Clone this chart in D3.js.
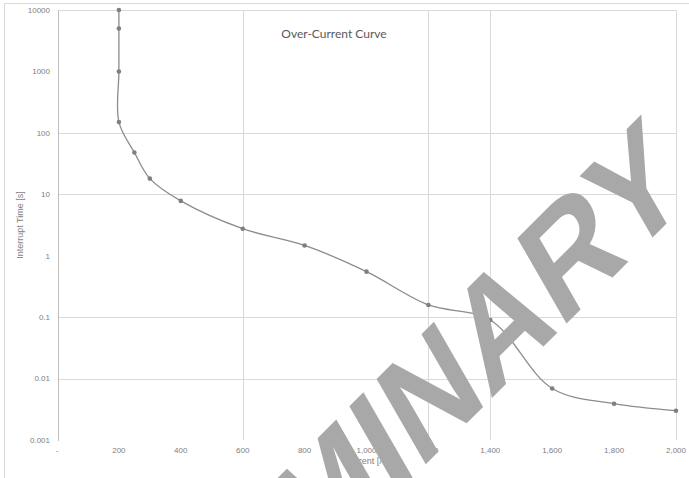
<!DOCTYPE html>
<html>
<head>
<meta charset="utf-8">
<script src="https://cdn.jsdelivr.net/npm/d3@7"></script>
<style>
  body { margin: 0; background: #fff; }
  .tick-label { font-family: "Liberation Sans", Arial, sans-serif; font-size: 8px; fill: #808080; }
</style>
</head>
<body>
<script>
//Data///////////////////////////////////////////////////////////////////////////////////////////

var currents = [200, 200, 200, 200, 250, 300, 400, 600, 800, 1000, 1200, 1400, 1600, 1800, 2000];
var times    = [10000, 5000, 1000, 150, 48, 18, 7.8, 2.75, 1.47, 0.55, 0.158, 0.09, 0.0069, 0.0039, 0.003];

var xTicks = [0, 200, 400, 600, 800, 1000, 1200, 1400, 1600, 1800, 2000];
var yTicks = [10000, 1000, 100, 10, 1, 0.1, 0.01, 0.001];

// gridlines that show in the picture
var xGrid = [600, 1200, 1400, 2000];
var yGrid = [10000, 100, 10, 0.1, 0.01];

var data = currents.map(function(c, i) { return { current: c, time: times[i] }; });

// Set up SVG and scales
var width = 689, height = 478;
var svg = d3.select("body").append("svg")
    .attr("width", width)
    .attr("height", height);

var x = d3.scaleLinear().domain([0, 2000]).range([57, 676]);
var y = d3.scaleLog().domain([0.001, 10000]).range([440, 10]);

// outer chart border (only top and left edges visible)
svg.append("path")
    .attr("d", "M4.5," + height + "V3.5H" + width)
    .attr("fill", "none")
    .attr("stroke", "#d9d9d9");

// gridlines
svg.append("g").selectAll("line")
    .data(yGrid)
    .enter().append("line")
    .attr("x1", x(0) + 1).attr("x2", x(2000))
    .attr("y1", function(d) { return Math.round(y(d)) + 0.5; })
    .attr("y2", function(d) { return Math.round(y(d)) + 0.5; })
    .attr("stroke", "#d9d9d9");

svg.append("g").selectAll("line")
    .data(xGrid)
    .enter().append("line")
    .attr("y1", y(10000)).attr("y2", y(0.001))
    .attr("x1", function(d) { return Math.round(x(d)) + 0.5; })
    .attr("x2", function(d) { return Math.round(x(d)) + 0.5; })
    .attr("stroke", "#d9d9d9");

// y axis line
svg.append("line")
    .attr("x1", 58.5).attr("x2", 58.5)
    .attr("y1", y(10000)).attr("y2", y(0.001) + 1)
    .attr("stroke", "#bfbfbf");

// y tick labels
svg.append("g").selectAll("text")
    .data(yTicks)
    .enter().append("text")
    .attr("class", "tick-label")
    .attr("x", 50)
    .attr("y", function(d) { return y(d); })
    .attr("dy", "0.35em")
    .attr("text-anchor", "end")
    .text(function(d) { return String(d); });

// x tick labels (accounting style: "-" for zero)
var fmt = d3.format(",");
svg.append("g").selectAll("text")
    .data(xTicks)
    .enter().append("text")
    .attr("class", "tick-label")
    .attr("x", function(d) { return x(d); })
    .attr("y", 453)
    .attr("text-anchor", "middle")
    .text(function(d) { return d === 0 ? "-" : fmt(d); });

// curve
var line = d3.line()
    .x(function(d) { return x(d.current); })
    .y(function(d) { return y(d.time); })
    .curve(d3.curveCatmullRom.alpha(0.5));

svg.append("path")
    .datum(data)
    .attr("d", line)
    .attr("fill", "none")
    .attr("stroke", "#8c8c8c")
    .attr("stroke-width", 1.3);

svg.append("g").selectAll("circle")
    .data(data)
    .enter().append("circle")
    .attr("cx", function(d) { return x(d.current); })
    .attr("cy", function(d) { return y(d.time); })
    .attr("r", 2.3)
    .attr("fill", "#7f7f7f");

// titles
svg.append("text")
    .attr("x", 334).attr("y", 38)
    .attr("text-anchor", "middle")
    .style("font-family", "Lato, 'Noto Sans', sans-serif")
    .style("font-size", "12px")
    .style("fill", "#595959")
    .text("Over-Current Curve");

svg.append("text")
    .attr("transform", "translate(23,225) rotate(-90)")
    .attr("text-anchor", "middle")
    .style("font-family", "'Liberation Sans', Arial, sans-serif")
    .style("font-size", "9px")
    .style("fill", "#7f7f7f")
    .text("Interrupt Time [s]");

svg.append("text")
    .attr("x", 366).attr("y", 464)
    .attr("text-anchor", "middle")
    .style("font-family", "'Liberation Sans', Arial, sans-serif")
    .style("font-size", "9px")
    .style("fill", "#7f7f7f")
    .text("Current [A]");

// watermark
svg.append("text")
    .attr("transform", "translate(692,198) rotate(-45) skewX(-15)")
    .attr("text-anchor", "end")
    .style("font-family", "'Liberation Sans', Arial, sans-serif")
    .style("font-weight", "bold")
    .style("font-size", "138px")
    .style("fill", "#a8a8a8")
    .text("PRELIMINARY");
</script>
</body>
</html>
